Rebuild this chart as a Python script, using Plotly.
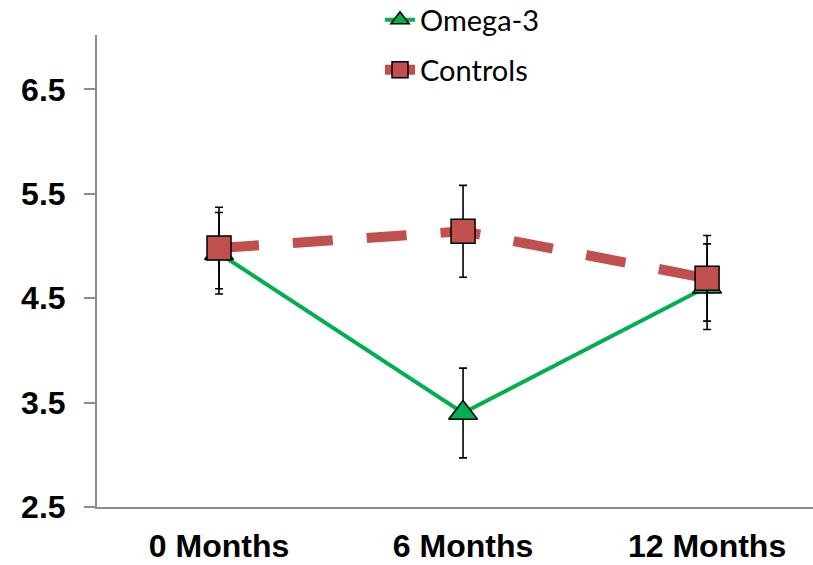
import plotly.graph_objects as go

# Time points and group means with their error (± SD)
months = ["0 Months", "6 Months", "12 Months"]
omega3 = [4.93, 3.40, 4.61]
omega3_err = [0.39, 0.43, 0.41]
controls = [4.98, 5.14, 4.69]
controls_err = [0.39, 0.44, 0.41]
y_ticks = [2.5, 3.5, 4.5, 5.5, 6.5]

GREEN = "#00B050"
RED = "#C0504D"
AXIS_GREY = "#8C8C8C"

fig = go.Figure()

fig.add_trace(go.Scatter(
    x=months, y=omega3, name="Omega-3", mode="lines+markers",
    line=dict(color=GREEN, width=4),
    marker=dict(symbol="triangle-up", size=25, color=GREEN,
                line=dict(color="black", width=1.5)),
    error_y=dict(type="data", array=omega3_err, color="black",
                 thickness=1.6, width=4),
    legend="legend",
))

fig.add_trace(go.Scatter(
    x=months, y=controls, name="Controls", mode="lines+markers",
    line=dict(color=RED, width=10, dash="40px,34px"),
    marker=dict(symbol="square", size=24, color=RED,
                line=dict(color="black", width=1.5)),
    error_y=dict(type="data", array=controls_err, color="black",
                 thickness=1.6, width=4),
    legend="legend2",
))

legend_font = dict(family="Lato, Open Sans, sans-serif", size=29, color="black")
tick_font = dict(family="Liberation Sans, Arial, sans-serif",
                 size=32, color="black", weight="bold")

fig.update_layout(
    width=813, height=565,
    margin=dict(l=97, r=0, t=35, b=58, autoexpand=False),
    paper_bgcolor="white", plot_bgcolor="white",
    showlegend=True,
    legend=dict(x=380 / 813, y=1 - 20 / 565, xref="container", yref="container",
                xanchor="left", yanchor="middle", font=legend_font,
                bgcolor="rgba(0,0,0,0)", itemwidth=30),
    legend2=dict(x=380 / 813, y=1 - 70 / 565, xref="container", yref="container",
                 xanchor="left", yanchor="middle", font=legend_font,
                 bgcolor="rgba(0,0,0,0)", itemwidth=30),
    xaxis=dict(
        type="category", range=[-0.5, 2.434], automargin=False,
        showline=True, linecolor=AXIS_GREY, linewidth=2,
        ticks="", showgrid=False, zeroline=False, tickangle=0,
        tickfont=tick_font, ticklabelstandoff=10,
    ),
    yaxis=dict(
        range=[2.5, 7.02], tickvals=y_ticks, automargin=False,
        ticktext=[f"{v:.1f}" for v in y_ticks],
        showline=True, linecolor=AXIS_GREY, linewidth=2,
        ticks="outside", ticklen=11, tickcolor=AXIS_GREY, tickwidth=2,
        showgrid=False, zeroline=False,
        tickfont=tick_font, ticklabelstandoff=12,
    ),
)

fig.write_html("out.html")
